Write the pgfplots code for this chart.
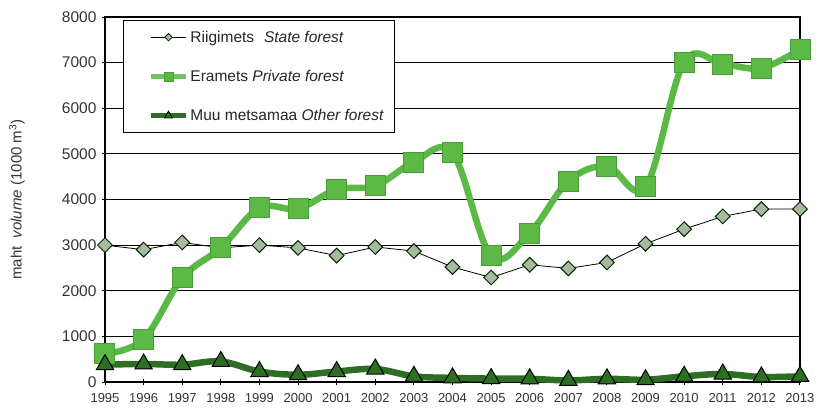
\documentclass[border=0pt]{standalone}
\usepackage{pgfplots}
\pgfplotsset{compat=1.18}
\usepackage{fontspec}
\setmainfont{Liberation Sans}
\definecolor{stateF}{HTML}{A7BA9F}
\definecolor{privF}{HTML}{5CB946}
\definecolor{privE}{HTML}{4A9E38}
\definecolor{otherF}{HTML}{2D6E24}
\begin{document}
\begin{tikzpicture}
\path[use as bounding box] (-105pt,-26pt) rectangle (712pt,382pt);
\begin{axis}[
  at={(0,0)}, anchor=south west,
  scale only axis, width=695pt, height=365pt,
  xmin=1995, xmax=2013, ymin=0, ymax=8000,
  xtick={1995,...,2013}, ytick={0,1000,...,8000},
  /pgf/number format/1000 sep={},
  /pgf/number format/assume math mode=true,
  xticklabel style={font=\fontsize{13}{15}\selectfont, text=black!80, yshift=-5pt},
  yticklabel style={font=\fontsize{15.5}{17}\selectfont, text=black!80, xshift=-2pt},
  xtick pos=bottom, ytick pos=left,
  tick align=center, major tick length=6pt,
  tick style={black, line width=0.9pt},
  axis line style={black, line width=1.2pt},
  ymajorgrids, grid style={black, line width=0.8pt},
  ylabel={maht\hspace{4pt} \textit{volume} (1000 m\textsuperscript{3})},
  ylabel style={at={(axis description cs:0,0.5)}, anchor=center, yshift=88pt, font=\fontsize{15}{17}\selectfont, text=black!80},
  clip=false,
  legend style={at={(axis description cs:0.026,0.992)}, anchor=north west,
    draw=black, line width=0.8pt, fill=white, row sep=22.5pt, inner xsep=8pt, inner ysep=8.5pt,
    font=\fontsize{15.5}{17}\selectfont, text=black!85, cells={anchor=west}},
  legend image code/.code={\path (0pt,0pt);
    \draw[mark repeat=2,mark phase=2,#1] plot coordinates {(17pt,0pt) (34.5pt,0pt) (52pt,0pt)};},
]
\addplot[forget plot, black, line width=0.8pt, mark=square*, mark size=5.2pt,
  mark options={rotate=45, fill=stateF, draw=black!85!green, line width=1pt}] coordinates {
(1995,3000) (1996,2900) (1997,3060) (1998,2940) (1999,3000) (2000,2940)
(2001,2770) (2002,2960) (2003,2870) (2004,2520) (2005,2290) (2006,2570)
(2007,2490) (2008,2620) (2009,3030) (2010,3350) (2011,3630) (2012,3790) (2013,3790)};
\addplot[forget plot, privF, line width=6.5pt, smooth, tension=0.6, mark=square*, mark size=10pt,
  mark options={fill=privF, draw=privE, line width=1pt}] coordinates {
(1995,620) (1996,940) (1997,2280) (1998,2940) (1999,3815) (2000,3800)
(2001,4220) (2002,4300) (2003,4820) (2004,5020) (2005,2770) (2006,3265)
(2007,4400) (2008,4730) (2009,4280) (2010,7010) (2011,6970) (2012,6880) (2013,7290)};
\addplot[forget plot, otherF, line width=6.5pt, smooth, tension=0.6, mark=triangle*, mark size=10pt,
  mark options={fill=otherF, draw=black, line width=1pt}] coordinates {
(1995,380) (1996,395) (1997,380) (1998,450) (1999,230) (2000,160)
(2001,230) (2002,285) (2003,125) (2004,90) (2005,75) (2006,70)
(2007,35) (2008,70) (2009,50) (2010,125) (2011,175) (2012,110) (2013,125)};
\addlegendimage{black, line width=0.8pt, mark=square*, mark size=2.6pt,
  mark options={rotate=45, fill=stateF, draw=black!85!green, line width=0.8pt}}
\addlegendentry{Riigimets\hspace{5.5pt} \textit{State forest}}
\addlegendimage{privF!85!white, line width=5pt, mark=square*, mark size=4.5pt,
  mark options={fill=privF, draw=privE, line width=0.8pt}}
\addlegendentry{Eramets \textit{Private forest}}
\addlegendimage{otherF, line width=5pt, mark=triangle*, mark size=4.5pt,
  mark options={fill=otherF, draw=black, line width=0.8pt}}
\addlegendentry{Muu metsamaa \textit{Other forest}}
\end{axis}
\end{tikzpicture}
\end{document}
